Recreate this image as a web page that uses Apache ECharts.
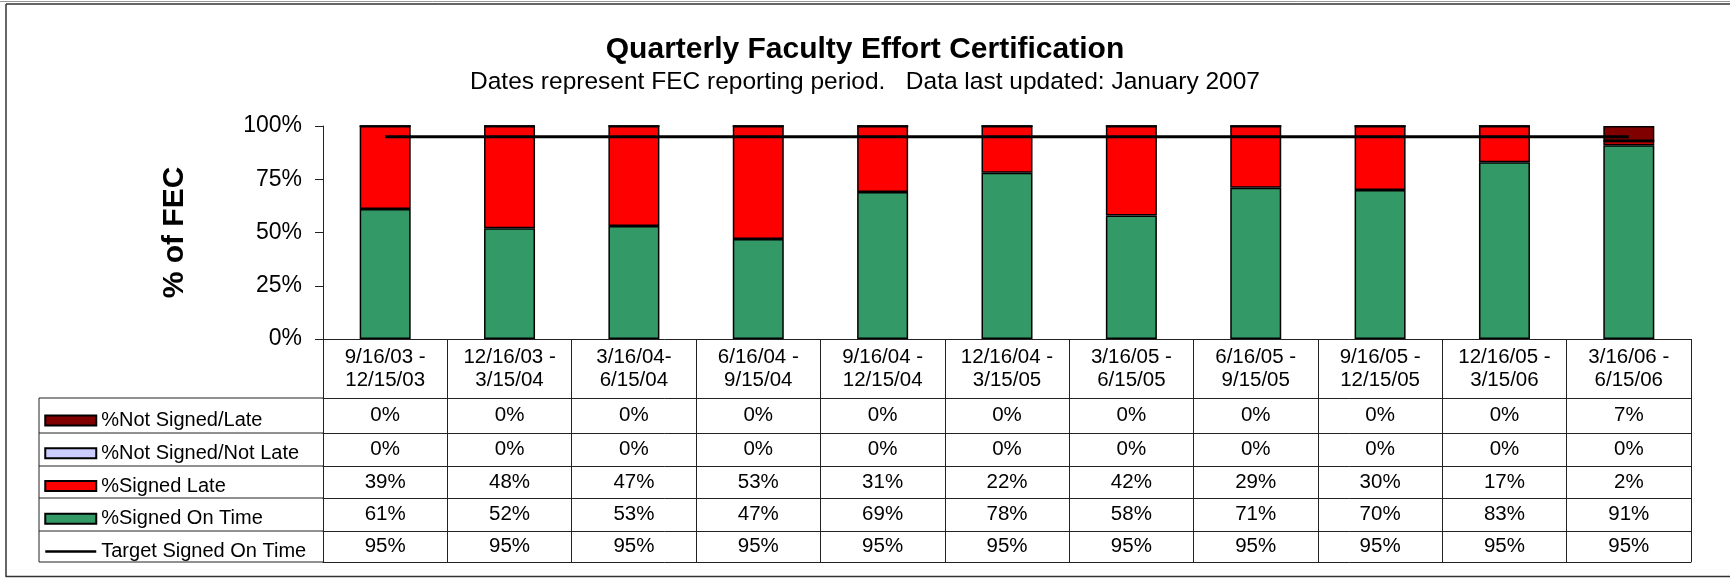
<!DOCTYPE html>
<html>
<head>
<meta charset="utf-8">
<script src="https://cdn.jsdelivr.net/npm/echarts@6/dist/echarts.min.js"></script>
<style>
  html, body { margin: 0; background: #fff; }
  #fecChart { width: 1730px; height: 578px; }
</style>
</head>
<body>
<div id="fecChart"></div>
<script>
const periods = [
  "9/16/03 -\n12/15/03", "12/16/03 -\n3/15/04", "3/16/04-\n6/15/04", "6/16/04 -\n9/15/04",
  "9/16/04 -\n12/15/04", "12/16/04 -\n3/15/05", "3/16/05 -\n6/15/05", "6/16/05 -\n9/15/05",
  "9/16/05 -\n12/15/05", "12/16/05 -\n3/15/06", "3/16/06 -\n6/15/06"
];
const notSignedLate    = [0, 0, 0, 0, 0, 0, 0, 0, 0, 0, 7];
const notSignedNotLate = [0, 0, 0, 0, 0, 0, 0, 0, 0, 0, 0];
const signedLate       = [39, 48, 47, 53, 31, 22, 42, 29, 30, 17, 2];
const signedOnTime     = [61, 52, 53, 47, 69, 78, 58, 71, 70, 83, 91];
const targetOnTime     = [95, 95, 95, 95, 95, 95, 95, 95, 95, 95, 95];

// layout
const PLOT_LEFT = 323, PLOT_RIGHT = 1691, PLOT_TOP = 126, PLOT_BOTTOM = 339;
const TABLE_LEFT = 39;
const ROW_LINES = [339, 398, 433, 466, 498, 531, 562];
const FONT = "'Liberation Sans', Arial, sans-serif";
const LINE_COLOR = "#222";

const tableRows = [
  { name: "%Not Signed/Late", values: notSignedLate },
  { name: "%Not Signed/Not Late", values: notSignedNotLate },
  { name: "%Signed Late", values: signedLate },
  { name: "%Signed On Time", values: signedOnTime },
  { name: "Target Signed On Time", values: targetOnTime }
];

const xAxes = [{
  type: "category",
  data: periods,
  position: "bottom",
  axisLine: { onZero: false, lineStyle: { color: LINE_COLOR, width: 1 } },
  axisTick: { show: true, interval: 0, length: ROW_LINES[1] - ROW_LINES[0], lineStyle: { color: LINE_COLOR } },
  axisLabel: {
    interval: 0, margin: (ROW_LINES[1] - ROW_LINES[0]) / 2, verticalAlign: "middle",
    fontSize: 20.5, lineHeight: 23, color: "#000"
  }
}];
tableRows.forEach((row, r) => {
  const top = ROW_LINES[r + 1], bottom = ROW_LINES[r + 2];
  xAxes.push({
    type: "category",
    data: periods,
    position: "bottom",
    offset: top - PLOT_BOTTOM,
    axisLine: { onZero: false, lineStyle: { color: LINE_COLOR, width: 1 } },
    axisTick: { show: true, interval: 0, length: bottom - top, lineStyle: { color: LINE_COLOR } },
    axisLabel: {
      interval: 0, margin: (bottom - top) / 2, verticalAlign: "middle",
      fontSize: 20.5, color: "#000",
      formatter: (v, i) => row.values[i] + "%"
    }
  });
});
xAxes.push({
  type: "category",
  data: periods,
  position: "bottom",
  offset: ROW_LINES[6] - PLOT_BOTTOM,
  axisLine: { onZero: false, lineStyle: { color: LINE_COLOR, width: 1 } },
  axisTick: { show: false },
  axisLabel: { show: false }
});

// left column borders of the data table
const tableGraphics = ROW_LINES.slice(1).map(y => ({
  type: "line",
  shape: { x1: TABLE_LEFT, y1: y, x2: PLOT_LEFT, y2: y },
  style: { stroke: LINE_COLOR, lineWidth: 1 }
}));
tableGraphics.push({
  type: "line",
  shape: { x1: TABLE_LEFT, y1: ROW_LINES[1], x2: TABLE_LEFT, y2: ROW_LINES[6] },
  style: { stroke: LINE_COLOR, lineWidth: 1 }
});

const frameGraphics = [
  { type: "line", shape: { x1: 0, y1: 1.5, x2: 1730, y2: 1.5 }, style: { stroke: "#999", lineWidth: 1 } },
  { type: "line", shape: { x1: 6, y1: 4, x2: 1730, y2: 4 }, style: { stroke: "#333", lineWidth: 1.5 } },
  { type: "line", shape: { x1: 6, y1: 4, x2: 6, y2: 577 }, style: { stroke: "#333", lineWidth: 1.5 } },
  { type: "line", shape: { x1: 6, y1: 576.5, x2: 1730, y2: 576.5 }, style: { stroke: "#333", lineWidth: 1.5 } }
];

const barBorder = { borderColor: "#000", borderWidth: 1.5 };

const chart = echarts.init(document.getElementById("fecChart"));
chart.setOption({
  animation: false,
  textStyle: { fontFamily: FONT },
  title: {
    text: "Quarterly Faculty Effort Certification",
    subtext: "Dates represent FEC reporting period.   Data last updated: January 2007",
    left: "center",
    top: 30,
    itemGap: 5,
    textStyle: { fontSize: 30, fontWeight: "bold", color: "#000", fontFamily: FONT },
    subtextStyle: { fontSize: 24.5, color: "#000", fontFamily: FONT }
  },
  legend: {
    orient: "vertical",
    left: 39,
    top: 405.5,
    itemWidth: 51,
    itemHeight: 10,
    itemGap: 12.75,
    selectedMode: false,
    textStyle: { fontSize: 20, color: "#000", fontFamily: FONT },
    data: [
      { name: "%Not Signed/Late", icon: "rect" },
      { name: "%Not Signed/Not Late", icon: "rect" },
      { name: "%Signed Late", icon: "rect" },
      { name: "%Signed On Time", icon: "rect" },
      { name: "Target Signed On Time", itemStyle: { opacity: 0 }, lineStyle: { width: 2.5 } }
    ]
  },
  grid: {
    left: PLOT_LEFT,
    right: 1730 - PLOT_RIGHT,
    top: PLOT_TOP,
    bottom: 578 - PLOT_BOTTOM,
    containLabel: false
  },
  xAxis: xAxes,
  yAxis: {
    type: "value",
    min: 0,
    max: 100,
    interval: 25,
    name: "% of FEC",
    nameLocation: "middle",
    nameRotate: 90,
    nameGap: 133,
    nameTextStyle: { fontSize: 30, fontWeight: "bold", color: "#000", fontFamily: FONT },
    axisLine: { show: true, lineStyle: { color: LINE_COLOR, width: 1 } },
    axisTick: { show: true, length: 8, lineStyle: { color: LINE_COLOR } },
    axisLabel: { formatter: "{value}%", fontSize: 23, margin: 21, color: "#000" },
    splitLine: { show: false }
  },
  series: [
    { name: "%Signed On Time", type: "bar", stack: "fec", barWidth: 51, data: signedOnTime,
      itemStyle: Object.assign({ color: "#339966" }, barBorder) },
    { name: "%Signed Late", type: "bar", stack: "fec", barWidth: 51, data: signedLate,
      itemStyle: Object.assign({ color: "#FF0000" }, barBorder) },
    { name: "%Not Signed/Not Late", type: "bar", stack: "fec", barWidth: 51, data: notSignedNotLate,
      itemStyle: Object.assign({ color: "#CCCCFF" }, barBorder) },
    { name: "%Not Signed/Late", type: "bar", stack: "fec", barWidth: 51, data: notSignedLate,
      itemStyle: Object.assign({ color: "#800000" }, barBorder) },
    { name: "Target Signed On Time", type: "line", data: targetOnTime, symbol: "none", z: 5,
      lineStyle: { color: "#000", width: 3 }, itemStyle: { color: "#000" } }
  ],
  graphic: frameGraphics.concat(tableGraphics)
});
</script>
</body>
</html>
